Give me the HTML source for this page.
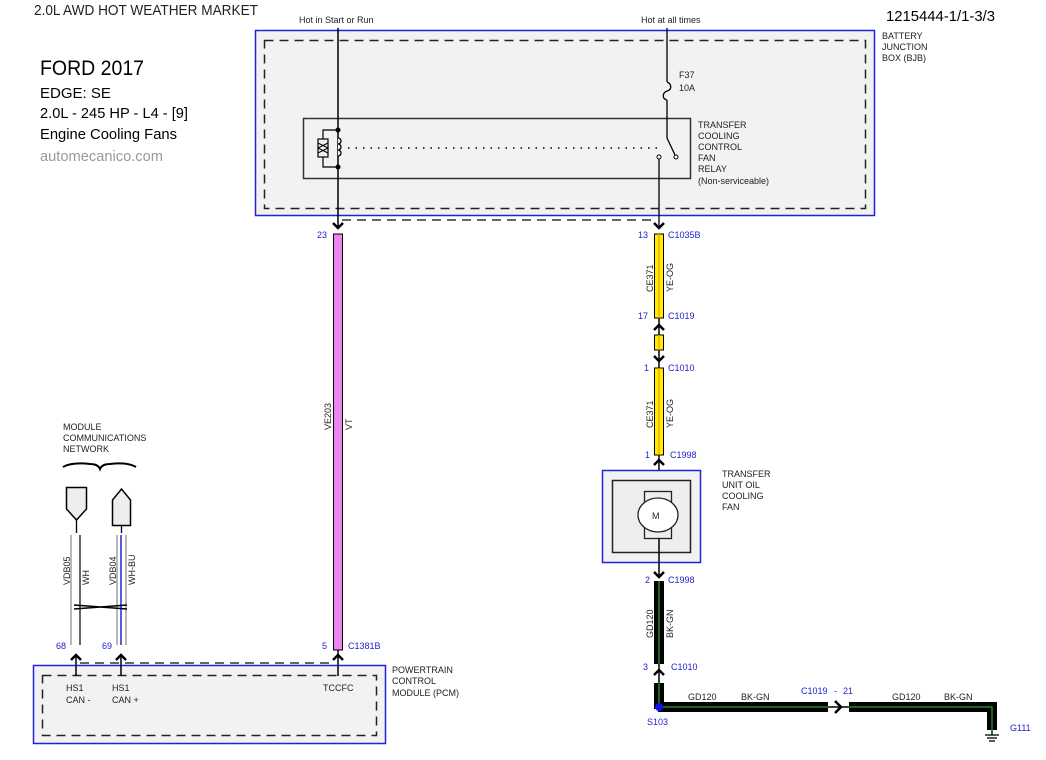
<!DOCTYPE html>
<html><head><meta charset="utf-8"><style>
html,body{margin:0;padding:0;background:#fff;}
svg{display:block;font-family:"Liberation Sans",sans-serif;}
.s{font-size:9px;fill:#222;}
.b{font-size:9px;fill:#2222cc;}
</style></head><body>
<svg width="1046" height="760" viewBox="0 0 1046 760" xmlns="http://www.w3.org/2000/svg">
<defs>
<g id="arD"><path d="M-5,-5 L0,0 L5,-5" fill="none" stroke="#000" stroke-width="2.5"/></g>
<g id="arU"><path d="M-5,5 L0,0 L5,5" fill="none" stroke="#000" stroke-width="2.5"/></g>
</defs>
<text x="34" y="15" font-size="15" fill="#222" textLength="224" lengthAdjust="spacingAndGlyphs">2.0L AWD HOT WEATHER MARKET</text>
<text x="40" y="75" font-size="21" fill="#000" textLength="104" lengthAdjust="spacingAndGlyphs">FORD 2017</text>
<text x="40" y="98" font-size="15" fill="#000">EDGE: SE</text>
<text x="40" y="118" font-size="15" fill="#000" textLength="148" lengthAdjust="spacingAndGlyphs">2.0L - 245 HP - L4 - [9]</text>
<text x="40" y="139" font-size="15" fill="#000" textLength="137" lengthAdjust="spacingAndGlyphs">Engine Cooling Fans</text>
<text x="40" y="161" font-size="15" fill="#999" textLength="123" lengthAdjust="spacingAndGlyphs">automecanico.com</text>
<text x="886" y="21" font-size="15" fill="#000" textLength="109" lengthAdjust="spacingAndGlyphs">1215444-1/1-3/3</text>
<text x="299" y="23" class="s" font-size="8">Hot in Start or Run</text>
<text x="641" y="23" class="s" font-size="8">Hot at all times</text>

<rect x="255.5" y="30.5" width="619" height="185" fill="#f2f2f2" stroke="#2222dd" stroke-width="1.5"/>
<rect x="264.5" y="40.5" width="601" height="168" fill="none" stroke="#222" stroke-width="1.5" stroke-dasharray="9,6"/>
<text class="s" x="882" y="39">BATTERY</text>
<text class="s" x="882" y="50">JUNCTION</text>
<text class="s" x="882" y="61">BOX (BJB)</text>
<rect x="303.5" y="118.5" width="387" height="60" fill="none" stroke="#333" stroke-width="1.5"/>
<text class="s" x="698" y="128">TRANSFER</text>
<text class="s" x="698" y="139">COOLING</text>
<text class="s" x="698" y="150">CONTROL</text>
<text class="s" x="698" y="161">FAN</text>
<text class="s" x="698" y="172">RELAY</text>
<text class="s" x="698" y="184">(Non-serviceable)</text>
<line x1="338" y1="28" x2="338" y2="228" stroke="#000" stroke-width="1.5"/>
<path d="M338,138 a3,3 0 0 1 0,6 a3,3 0 0 1 0,6 a3,3 0 0 1 0,6" fill="#f2f2f2" stroke="#000" stroke-width="1.3"/>
<path d="M338,130 H323 V167 H338" fill="none" stroke="#000" stroke-width="1.2"/>
<rect x="318" y="139" width="10" height="18" fill="#f2f2f2" stroke="#000" stroke-width="1.2"/>
<path d="M318,143 L328,148 L318,153 M328,143 L318,148 L328,153" fill="none" stroke="#000" stroke-width="1"/>
<circle cx="338" cy="130" r="2.5" fill="#000"/>
<circle cx="338" cy="167" r="2.5" fill="#000"/>
<line x1="348" y1="148" x2="660" y2="148" stroke="#000" stroke-width="1.5" stroke-dasharray="1.5,6"/>
<line x1="667" y1="28" x2="667" y2="82" stroke="#000" stroke-width="1.3"/>
<path d="M667,82 c5,2 5,8 0,9 c-5,2 -5,8 0,9" fill="none" stroke="#000" stroke-width="1.3"/>
<line x1="667" y1="100" x2="667" y2="138" stroke="#000" stroke-width="1.3"/>
<line x1="667" y1="138" x2="675" y2="155" stroke="#000" stroke-width="1.3"/>
<circle cx="676" cy="157" r="2" fill="#fff" stroke="#000"/>
<circle cx="659" cy="157" r="2" fill="#fff" stroke="#000"/>
<line x1="659" y1="159" x2="659" y2="228" stroke="#000" stroke-width="1.3"/>
<text class="s" x="679" y="78">F37</text>
<text class="s" x="679" y="91">10A</text>
<line x1="342" y1="220" x2="654" y2="220" stroke="#333" stroke-width="1.5" stroke-dasharray="9,6"/>
<use href="#arD" x="338" y="228"/>
<use href="#arD" x="659" y="228"/>

<rect x="333.5" y="234" width="9" height="416" fill="#ee82ee" stroke="#000" stroke-width="1"/>
<text class="b" x="317" y="238">23</text>
<text class="s" transform="translate(331,430) rotate(-90)">VE203</text>
<text class="s" transform="translate(352,430) rotate(-90)">VT</text>
<text class="b" x="322" y="649">5</text>
<text class="b" x="348" y="649">C1381B</text>

<g fill="#ffee00" stroke="#000" stroke-width="1">
<rect x="654.5" y="234" width="9" height="84"/>
<rect x="654.5" y="335" width="9" height="15"/>
<rect x="654.5" y="368" width="9" height="87"/>
</g>
<g stroke="#ffaa00" stroke-width="1.5">
<line x1="659" y1="234" x2="659" y2="318"/><line x1="659" y1="335" x2="659" y2="350"/><line x1="659" y1="368" x2="659" y2="455"/>
</g>
<use href="#arU" x="659" y="325"/>
<use href="#arD" x="659" y="361"/>
<use href="#arU" x="659" y="460"/>
<line x1="659" y1="318" x2="659" y2="335" stroke="#000" stroke-width="1.5"/>
<line x1="659" y1="350" x2="659" y2="368" stroke="#000" stroke-width="1.5"/>
<line x1="659" y1="455" x2="659" y2="492" stroke="#000" stroke-width="1.5"/>
<text class="b" x="638" y="238">13</text><text class="b" x="668" y="238">C1035B</text>
<text class="s" transform="translate(653,292) rotate(-90)">CE371</text>
<text class="s" transform="translate(673,292) rotate(-90)">YE-OG</text>
<text class="b" x="638" y="319">17</text><text class="b" x="668" y="319">C1019</text>
<text class="b" x="644" y="371">1</text><text class="b" x="668" y="371">C1010</text>
<text class="s" transform="translate(653,428) rotate(-90)">CE371</text>
<text class="s" transform="translate(673,428) rotate(-90)">YE-OG</text>
<text class="b" x="645" y="458">1</text><text class="b" x="670" y="458">C1998</text>

<rect x="602.5" y="470.5" width="98" height="92" fill="#f2f2f2" stroke="#2222dd" stroke-width="1.5"/>
<rect x="612.5" y="480.5" width="78" height="72" fill="#eee" stroke="#222" stroke-width="1.5"/>
<rect x="644.5" y="491.5" width="27" height="47" fill="#eee" stroke="#222" stroke-width="1.3"/>
<ellipse cx="658" cy="515" rx="20" ry="17" fill="#fff" stroke="#222" stroke-width="1.3"/>
<text x="652" y="519" font-size="9" fill="#222">M</text>
<line x1="659" y1="538" x2="659" y2="577" stroke="#000" stroke-width="1.5"/>
<use href="#arD" x="659" y="577"/>
<text class="s" x="722" y="477">TRANSFER</text>
<text class="s" x="722" y="488">UNIT OIL</text>
<text class="s" x="722" y="499">COOLING</text>
<text class="s" x="722" y="510">FAN</text>

<g fill="#000">
<rect x="654" y="581" width="10" height="83"/>
<rect x="654" y="683" width="10" height="26"/>
<rect x="658" y="702" width="170" height="10"/>
<rect x="849" y="702" width="147" height="10"/>
<rect x="987" y="702" width="10" height="28"/>
</g>
<g stroke="#228822" stroke-width="1.5" fill="none">
<line x1="659" y1="581" x2="659" y2="664"/>
<line x1="659" y1="683" x2="659" y2="707"/>
<path d="M659,707 H828"/>
<path d="M849,707 H992 V730"/>
</g>
<line x1="659" y1="664" x2="659" y2="683" stroke="#000" stroke-width="1.5"/>
<use href="#arU" x="659" y="670"/>
<line x1="828" y1="707" x2="849" y2="707" stroke="#000" stroke-width="1.5"/>
<path d="M835,701 L841,707 L835,713" fill="none" stroke="#000" stroke-width="2.5"/>
<circle cx="659" cy="707" r="4" fill="#1111ee"/>
<g stroke="#000" stroke-width="1.3"><line x1="992" y1="730" x2="992" y2="735"/><line x1="985" y1="735" x2="999" y2="735"/><line x1="987" y1="738" x2="997" y2="738"/><line x1="989" y1="741" x2="995" y2="741"/></g>
<text class="b" x="645" y="583">2</text><text class="b" x="668" y="583">C1998</text>
<text class="s" transform="translate(653,638) rotate(-90)">GD120</text>
<text class="s" transform="translate(673,638) rotate(-90)">BK-GN</text>
<text class="b" x="643" y="670">3</text><text class="b" x="671" y="670">C1010</text>
<text class="s" x="688" y="700">GD120</text><text class="s" x="741" y="700">BK-GN</text>
<text class="b" x="801" y="694">C1019</text><text class="b" x="834" y="694">-</text><text class="b" x="843" y="694">21</text>
<text class="s" x="892" y="700">GD120</text><text class="s" x="944" y="700">BK-GN</text>
<text class="b" x="647" y="725">S103</text>
<text class="b" x="1010" y="731">G111</text>

<text class="s" x="63" y="430" font-size="8">MODULE</text>
<text class="s" x="63" y="441" font-size="8">COMMUNICATIONS</text>
<text class="s" x="63" y="452" font-size="8">NETWORK</text>
<path d="M63,467 Q72,462 90,464 Q98,464 100,469 Q102,464 110,464 Q128,462 136,467" fill="none" stroke="#000" stroke-width="2"/>
<path d="M66.5,487.5 H86.5 V509 L76.5,520 L66.5,509 Z" fill="#eee" stroke="#000" stroke-width="1.5"/>
<path d="M112.5,525.5 H130.5 V500 L121.5,489 L112.5,500 Z" fill="#eee" stroke="#000" stroke-width="1.5"/>
<line x1="76.5" y1="520" x2="76.5" y2="533" stroke="#000" stroke-width="1.3"/>
<line x1="121.5" y1="525" x2="121.5" y2="533" stroke="#000" stroke-width="1.3"/>
<g stroke-width="1.2">
<line x1="71" y1="535" x2="71" y2="645" stroke="#888"/>
<line x1="80" y1="535" x2="80" y2="645" stroke="#000"/>
<line x1="117" y1="535" x2="117" y2="645" stroke="#888"/>
<line x1="121" y1="535" x2="121" y2="645" stroke="#2222dd" stroke-width="1.5"/>
<line x1="126" y1="535" x2="126" y2="645" stroke="#888"/>
</g>
<path d="M74,605 L127,609 M74,609 L127,605" fill="none" stroke="#000" stroke-width="1.5"/>
<text class="s" transform="translate(70,585) rotate(-90)">VDB05</text>
<text class="s" transform="translate(89,585) rotate(-90)">WH</text>
<text class="s" transform="translate(116,585) rotate(-90)">VDB04</text>
<text class="s" transform="translate(135,585) rotate(-90)">WH-BU</text>
<text class="b" x="56" y="649">68</text>
<text class="b" x="102" y="649">69</text>
<use href="#arU" x="76" y="655"/>
<use href="#arU" x="121" y="655"/>
<use href="#arU" x="338" y="655"/>
<line x1="76" y1="655" x2="76" y2="676" stroke="#000" stroke-width="1.5"/>
<line x1="121" y1="655" x2="121" y2="676" stroke="#000" stroke-width="1.5"/>
<line x1="338" y1="650" x2="338" y2="676" stroke="#000" stroke-width="1.5"/>

<rect x="33.5" y="665.5" width="352" height="78" fill="#f2f2f2" stroke="#2222dd" stroke-width="1.5"/>
<line x1="80" y1="663" x2="334" y2="663" stroke="#333" stroke-width="1.5" stroke-dasharray="9,6"/>
<rect x="42.5" y="675.5" width="334" height="60" fill="none" stroke="#222" stroke-width="1.5" stroke-dasharray="9,6"/>
<path d="M76,665 V676 M121,665 V676 M338,665 V676" stroke="#000" stroke-width="1.5"/>
<text class="s" x="66" y="691">HS1</text><text class="s" x="66" y="703">CAN -</text>
<text class="s" x="112" y="691">HS1</text><text class="s" x="112" y="703">CAN +</text>
<text class="s" x="323" y="691">TCCFC</text>
<text class="s" x="392" y="673">POWERTRAIN</text>
<text class="s" x="392" y="684">CONTROL</text>
<text class="s" x="392" y="696">MODULE (PCM)</text>
</svg>
</body></html>
